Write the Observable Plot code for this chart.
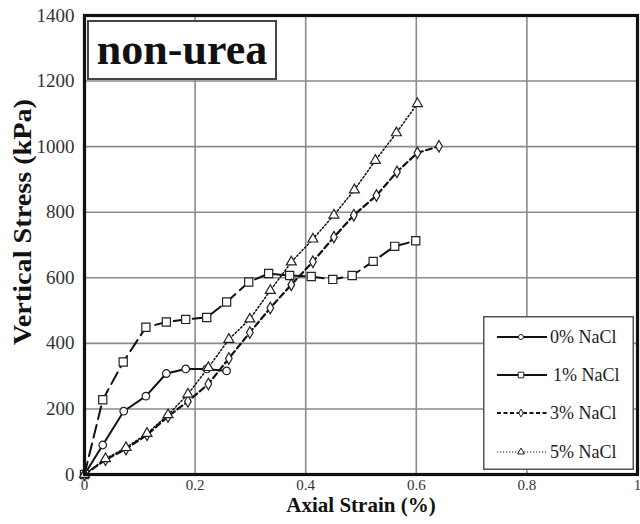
<!DOCTYPE html>
<html>
<head>
<meta charset="utf-8">
<script src="https://cdn.jsdelivr.net/npm/d3@7"></script>
<script src="https://cdn.jsdelivr.net/npm/@observablehq/plot@0.6"></script>
<style>
  body { margin: 0; background: #fff; }
  #wrap { position: relative; width: 640px; height: 524px; font-family: "Liberation Serif", "Times New Roman", serif; }
  #wrap svg text { font-family: "Liberation Serif", "Times New Roman", serif; }
  #title { position: absolute; left: 87px; top: 20px; width: 186px; height: 56px; border: 2px solid #444; background: #fff;
    font-weight: bold; font-size: 44px; line-height: 56px; text-align: center; color: #111; box-sizing: content-box; }
  #legend { position: absolute; left: 483px; top: 316px; }
</style>
</head>
<body>
<div id="wrap"></div>
<script>
const xTicks = [0, 0.2, 0.4, 0.6, 0.8, 1];
const yTicks = [0, 200, 400, 600, 800, 1000, 1200, 1400];
const seriesNames = ["0% NaCl", "1% NaCl", "3% NaCl", "5% NaCl"];

const strain0 = [0, 0.033, 0.071, 0.111, 0.148, 0.183, 0.221, 0.257];
const stress0 = [0, 90, 193, 239, 308, 322, 322, 316];

const strain1 = [0, 0.033, 0.070, 0.111, 0.148, 0.183, 0.221, 0.257, 0.297, 0.333, 0.371, 0.410, 0.449, 0.484, 0.522, 0.561, 0.599];
const stress1 = [0, 228, 343, 449, 465, 473, 479, 526, 587, 613, 607, 604, 595, 607, 650, 696, 713];

const strain3 = [0, 0.038, 0.075, 0.113, 0.151, 0.187, 0.224, 0.261, 0.299, 0.336, 0.374, 0.413, 0.451, 0.487, 0.528, 0.565, 0.602, 0.641];
const stress3 = [0, 45, 78, 121, 177, 223, 276, 354, 433, 508, 579, 649, 724, 791, 851, 923, 981, 1001];

const strain5 = [0, 0.038, 0.075, 0.113, 0.151, 0.187, 0.224, 0.261, 0.299, 0.336, 0.374, 0.413, 0.451, 0.488, 0.526, 0.564, 0.602];
const stress5 = [0, 48, 82, 125, 182, 245, 326, 412, 474, 561, 648, 718, 791, 868, 958, 1042, 1131];

const styles = [
  {symbol: "circle", r: 3.8, width: 2, dash: null},
  {symbol: "square", r: 4.6, width: 2, dash: "13,6"},
  {symbol: "diamond", r: 3.5, width: 2.2, dash: "6,3.5"},
  {symbol: "triangle", r: 3.7, width: 1.5, dash: "1.6,2.2"}
];
const strains = [strain0, strain1, strain3, strain5];
const stresses = [stress0, stress1, stress3, stress5];
const series = strains.map((xs, i) => xs.map((x, j) => ({x, y: stresses[i][j]})));

const marks = [
  Plot.gridX(xTicks.slice(1, -1), {stroke: "#8a8a8a", strokeOpacity: 1, strokeWidth: 1.6}),
  Plot.gridY(yTicks.slice(1, -1), {stroke: "#8a8a8a", strokeOpacity: 1, strokeWidth: 1.6}),
  Plot.axisX(xTicks, {tickSize: 0, tickPadding: 5, tickFormat: d => String(d), label: null, fontSize: 15, fill: "#333"}),
  Plot.axisY(yTicks, {tickSize: 0, tickPadding: 10, tickFormat: d => String(d), label: null, fontSize: 19, fill: "#333"}),
];
series.forEach((data, i) => {
  const s = styles[i];
  marks.push(Plot.line(data, {x: "x", y: "y", stroke: "#111", strokeWidth: s.width, strokeDasharray: s.dash}));
});
series.forEach((data, i) => {
  const s = styles[i];
  marks.push(Plot.dot(data, {x: "x", y: "y", symbol: () => s.symbol, r: s.r, fill: "white", stroke: "#222", strokeWidth: 1.2}));
});
marks.push(Plot.frame({stroke: "#111", strokeWidth: 3.2}));
marks.push(Plot.text(["Axial Strain (%)"], {frameAnchor: "bottom", lineAnchor: "middle", textAnchor: "middle", dy: 31, fontWeight: "bold", fontSize: 21, fill: "#111"}));
marks.push(Plot.text(["Vertical Stress (kPa)"], {frameAnchor: "left", lineAnchor: "middle", textAnchor: "middle", dx: -62, dy: -23, rotate: -90, fontWeight: "bold", fontSize: 25, fill: "#111", className: "ylabel"}));

const chart = Plot.plot({
  width: 640, height: 524,
  marginLeft: 84, marginRight: 3, marginTop: 15, marginBottom: 50,
  x: {domain: [0, 1]},
  y: {domain: [0, 1400]},
  symbol: {type: "identity"},
  style: {fontFamily: "Liberation Serif, Times New Roman, serif", fontSize: "15px", background: "white", overflow: "visible"},
  marks
});
// stretch the vertical label along its length like the reference
d3.select(chart).selectAll("g.ylabel text").attr("textLength", 246).attr("lengthAdjust", "spacingAndGlyphs");
const wrap = document.getElementById("wrap");
wrap.appendChild(chart);

const title = document.createElement("div");
title.id = "title";
title.textContent = "non-urea";
wrap.appendChild(title);

// legend
const lw = 151, lh = 154;
const leg = d3.create("svg").attr("id", "legend").attr("width", lw).attr("height", lh)
  .style("font-family", "'Liberation Serif', 'Times New Roman', serif");
leg.append("rect").attr("x", 0.75).attr("y", 0.75).attr("width", lw - 1.5).attr("height", lh - 1.5)
  .attr("fill", "white").attr("stroke", "#555").attr("stroke-width", 1.5);
const legDash = [null, null, "4,2.5", "1.2,1.8"];
const legW = [1.8, 1.8, 1.8, 1.2];
const legSym = [d3.symbolCircle, d3.symbolSquare, d3.symbolDiamond, d3.symbolTriangle];
const legSize = [20, 32, 18, 20];
const rowY = [21, 59, 97, 136];
seriesNames.forEach((name, i) => {
  const g = leg.append("g").attr("transform", `translate(0,${rowY[i]})`);
  g.append("line").attr("x1", 14).attr("x2", 64).attr("stroke", "#111").attr("stroke-width", legW[i])
    .attr("stroke-dasharray", legDash[i]);
  g.append("path").attr("d", d3.symbol(legSym[i], legSize[i])()).attr("transform", "translate(38,0)")
    .attr("fill", "white").attr("stroke", "#222").attr("stroke-width", 1);
  g.append("text").attr("x", i === 1 ? 70 : 67).attr("dy", "0.35em").attr("font-size", 18).attr("fill", "#222").text(name);
});
wrap.appendChild(leg.node());
</script>
</body>
</html>
